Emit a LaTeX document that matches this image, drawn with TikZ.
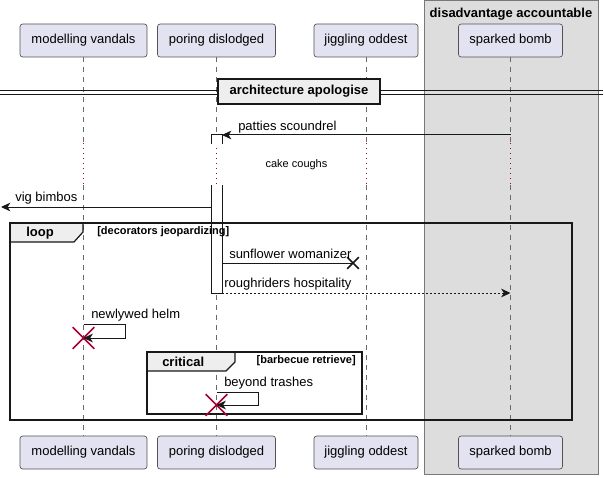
\documentclass[tikz,border=0pt]{standalone}
\usepackage{fontspec}
\setmainfont{Liberation Sans}
\definecolor{ActorFill}{RGB}{226,226,240}
\definecolor{ActorLine}{RGB}{24,24,24}
\definecolor{GroupFill}{RGB}{221,221,221}
\definecolor{GroupLine}{RGB}{120,120,120}
\definecolor{TabFill}{RGB}{238,238,238}
\definecolor{KillColor}{RGB}{168,0,54}
\usetikzlibrary{arrows.meta, shapes.misc}
\tikzstyle{actor} = [draw=ActorLine!75, fill=ActorFill, rounded corners=2pt, line width=0.5pt, minimum height=24.75pt, inner sep=0pt, font=\fontsize{9.75}{11}\selectfont]
\tikzstyle{lifeline} = [ActorLine!65, line width=0.5pt, dash pattern=on 3.75pt off 3.75pt]
\tikzstyle{delay} = [KillColor, line width=0.75pt, dash pattern=on 0.75pt off 3pt]
\tikzstyle{msg} = [ActorLine, line width=0.75pt, -{Stealth[length=7pt,width=6.5pt,inset=2pt]}]
\tikzstyle{reply} = [msg, dash pattern=on 1.5pt off 1.5pt]
\tikzstyle{msgtext} = [inner sep=0pt, anchor=west, font=\fontsize{9.75}{11}\selectfont]
\tikzstyle{boldtext} = [inner sep=0pt, anchor=west, font=\fontsize{9.75}{11}\selectfont\bfseries]
\tikzstyle{guardtext} = [inner sep=0pt, font=\fontsize{8.25}{10}\selectfont\bfseries]
\tikzstyle{fragment} = [ActorLine, line width=1.5pt]
\tikzstyle{fragtab} = [fill=TabFill, draw=ActorLine, line width=0.9pt]
\tikzstyle{actbar} = [fill=white, draw=ActorLine, line width=0.75pt]
\tikzstyle{killx} = [draw=KillColor, cross out, line width=1.3pt, minimum size=15pt, inner sep=0pt]
\tikzstyle{lostx} = [draw=ActorLine, cross out, line width=1.2pt, minimum size=7.5pt, inner sep=0pt]

\begin{document}
\begin{tikzpicture}[x=0.75pt, y=-0.75pt]
            \useasboundingbox (0,0) rectangle (604,478);

            % Box round sparked bomb
            \draw[fill=GroupFill, draw=GroupLine, line width=0.75pt] (424,1) rectangle (598,474);
            \node[guardtext, font=\fontsize{9.75}{11}\selectfont\bfseries] (grp) at (511,14) {disadvantage accountable};

            % Participants, head and foot
            \node[actor, minimum width=95.25pt] (mvTop) at (83.5,40.5) {modelling vandals};
            \node[actor, minimum width=88.5pt] (pdTop) at (216.5,40.5) {poring dislodged};
            \node[actor, minimum width=78pt] (joTop) at (366,40.5) {jiggling oddest};
            \node[actor, minimum width=78pt] (sbTop) at (510.5,40.5) {sparked bomb};
            \node[actor, minimum width=95.25pt] (mvBot) at (83.5,452.5) {modelling vandals};
            \node[actor, minimum width=88.5pt] (pdBot) at (216.5,452.5) {poring dislodged};
            \node[actor, minimum width=78pt] (joBot) at (366,452.5) {jiggling oddest};
            \node[actor, minimum width=78pt] (sbBot) at (510.5,452.5) {sparked bomb};

            % Lifelines, with the delay
            \coordinate (delayA) at (0,143);
            \coordinate (delayB) at (0,185);
            \foreach \p in {mv,pd,jo,sb} {
                \draw[lifeline] (\p Top.south) -- (\p Top.south |- delayA);
                \draw[delay] (\p Top.south |- delayA) -- (\p Top.south |- delayB);
                \draw[lifeline] (\p Top.south |- delayB) -- (\p Bot.north);
            }
            \node[inner sep=0pt, font=\fontsize{8.25}{10}\selectfont] (cake) at (296.5,165) {cake coughs};

            % Divider
            \draw[ActorLine, line width=0.75pt] (0,91) -- (603,91);
            \draw[ActorLine, line width=0.75pt] (0,95) -- (603,95);
            \node[fill=TabFill, draw=ActorLine, line width=1.5pt, minimum width=121.5pt, minimum height=18.75pt, inner sep=0pt, font=\fontsize{9.75}{11}\selectfont\bfseries] (arch) at (299,91.5) {architecture apologise};

            % Activation of poring dislodged
            \draw[actbar] (211,144) -- (211,135) -- (222,135) -- (222,144);
            \fill[white] (211,185) rectangle (222,293);
            \draw[actbar, fill=none] (211,185) -- (211,293) -- (222,293) -- (222,185);

            % Messages before the loop
            \coordinate (sbPatties) at (510.5,135);
            \coordinate (barPatties) at (222,135);
            \draw[msg] (sbPatties) -- (barPatties);
            \node[msgtext] (patties) at (238,127) {patties scoundrel};
            \coordinate (barVig) at (211,207);
            \coordinate (outVig) at (1,207);
            \draw[msg] (barVig) -- (outVig);
            \node[msgtext] (vig) at (15,198) {vig bimbos};

            % Loop
            \draw[fragtab] (10,223) -- (83,223) -- (83,232) -- (74,242) -- (10,242) -- cycle;
            \draw[fragment] (10,223) rectangle (572,420);
            \node[boldtext] (loop) at (26,233) {loop};
            \node[guardtext, anchor=west] (loopGuard) at (97,232) {[decorators jeopardizing]};

            \coordinate (barSun) at (222,263);
            \node[lostx] (sunX) at (353,263) {};
            \draw[ActorLine, line width=0.75pt] (barSun) -- (sunX.center);
            \node[msgtext] (sun) at (229,254) {sunflower womanizer};
            \coordinate (barRough) at (222,293);
            \coordinate (sbRough) at (510.5,293);
            \draw[reply] (barRough) -- (sbRough);
            \node[msgtext] (rough) at (224,284) {roughriders hospitality};

            \coordinate (mvHelm) at (83.5,324);
            \node[killx] (mvEnd) at (83.5,338) {};
            \draw[msg] (mvHelm) -- ++(42,0) -- ++(0,14) -- (mvEnd.center);
            \node[msgtext] (helm) at (91,315) {newlywed helm};

            % Critical
            \draw[fragtab] (147,352) -- (235,352) -- (235,362) -- (226,371) -- (147,371) -- cycle;
            \draw[fragment] (147,352) rectangle (362,414);
            \node[boldtext] (crit) at (162,362) {critical};
            \node[guardtext, anchor=east] (critGuard) at (356,361) {[barbecue retrieve]};

            \coordinate (pdTrash) at (216.5,392);
            \node[killx] (pdEnd) at (216.5,405) {};
            \draw[msg] (pdTrash) -- ++(42,0) -- ++(0,13) -- (pdEnd.center);
            \node[msgtext] (trash) at (224,383) {beyond trashes};
        \end{tikzpicture}
\end{document}
